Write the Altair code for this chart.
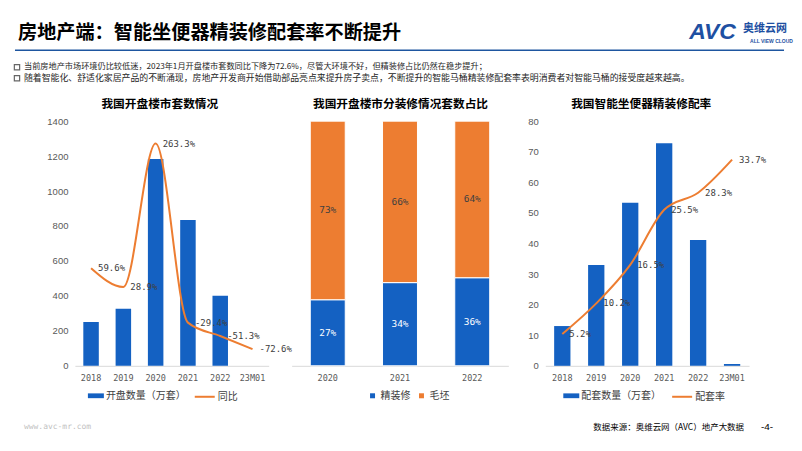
import altair as alt
import pandas as pd

BLUE = "#1461C2"
ORANGE = "#ED7D31"
GRAY = "#595959"
DARK = "#404040"
AXISLINE = "#D9D9D9"
CJK = "Noto Sans CJK SC"
MONO = "DejaVu Sans Mono"
SANS = "Liberation Sans"

# ---------------- data ----------------
years6 = ["2018", "2019", "2020", "2021", "2022", "23M01"]
open_units = [251, 326, 1183, 834, 401, None]          # 开盘数量（万套）
open_yoy = [59.6, 28.9, 263.3, -29.4, -51.3, -72.6]    # 同比 %

years3 = ["2020", "2021", "2022"]
finished_share = [27, 34, 36]   # 精装修 %
rough_share = [73, 66, 64]      # 毛坯 %

toilet_units = [13, 33, 53.3, 72.8, 41.1, 0.6]         # 配套数量（万套）
toilet_rate = [5.2, 10.2, 16.5, 25.5, 28.3, 33.7]      # 配套率 %

main_title = "房地产端：智能坐便器精装修配套率不断提升"
bullet1 = "当前房地产市场环境仍比较低迷，2023年1月开盘楼市套数同比下降为72.6%，尽管大环境不好，但精装修占比仍然在稳步提升；"
bullet2 = "随着智能化、舒适化家居产品的不断涌现，房地产开发商开始借助部品亮点来提升房子卖点，不断提升的智能马桶精装修配套率表明消费者对智能马桶的接受度越来越高。"
panel_titles = ["我国开盘楼市套数情况", "我国开盘楼市分装修情况套数占比", "我国智能坐便器精装修配率"]
source_text = "数据来源：奥维云网（AVC）地产大数据"
site_text = "www.avc-mr.com"
page_text = "-4-"


# ---------------- helpers ----------------
def txt(s, x, y, size, color="#000000", font=CJK, weight="normal", align="left",
        style="normal", angle=0, opacity=1.0):
    return alt.Chart(pd.DataFrame({"t": [s]})).mark_text(
        align=align, baseline="middle", font=font, fontSize=size, fontWeight=weight,
        color=color, fontStyle=style, angle=angle, opacity=opacity
    ).encode(text="t:N", x=alt.value(x), y=alt.value(y))


def xaxis_enc(domain, pin):
    return alt.X(
        "year:N", sort=domain,
        scale=alt.Scale(domain=domain, paddingInner=pin, paddingOuter=pin / 2),
        axis=alt.Axis(title=None, labelAngle=0, labelFont=MONO, labelFontSize=8.5,
                      labelColor=GRAY, ticks=False, domainColor=AXISLINE,
                      labelPadding=8, grid=False),
    )


PATH_RECT = "M-1,-0.3H1V0.3H-1Z"


def combo_panel(units, rates, labels, ymax, ystep, rdomain, bar_name, line_name,
                width, lx_bar, lx_line):
    df = pd.DataFrame({"year": years6, "units": units, "rate": rates, "label": labels})
    df["s1"] = bar_name
    df["s2"] = line_name
    x = xaxis_enc(years6, 0.52)
    bars = alt.Chart(df).mark_bar().encode(
        x=x,
        y=alt.Y("units:Q", scale=alt.Scale(domain=[0, ymax]),
                axis=alt.Axis(title=None, values=list(range(0, ymax + 1, ystep)),
                              format="d", labelFont=SANS, labelFontSize=9.5,
                              labelColor=GRAY, ticks=False, domain=False, grid=False,
                              labelPadding=7)),
        color=alt.Color("s1:N", scale=alt.Scale(domain=[bar_name], range=[BLUE]),
                        legend=alt.Legend(title=None, orient="none", legendX=lx_bar,
                                          legendY=267, symbolType=PATH_RECT,
                                          symbolSize=256, symbolStrokeWidth=0,
                                          labelFont=CJK, labelFontSize=10,
                                          labelColor=DARK, padding=0, labelOffset=2)),
    )
    line = alt.Chart(df).mark_line(interpolate="monotone", strokeWidth=2).encode(
        x=x,
        y=alt.Y("rate:Q", scale=alt.Scale(domain=rdomain), axis=None),
        stroke=alt.Stroke("s2:N", scale=alt.Scale(domain=[line_name], range=[ORANGE]),
                          legend=alt.Legend(title=None, orient="none", legendX=lx_line,
                                            legendY=265, symbolType="stroke",
                                            symbolSize=400, symbolStrokeWidth=2,
                                            labelFont=CJK, labelFontSize=10,
                                            labelColor=DARK, padding=0, labelOffset=2)),
    )
    text = alt.Chart(df).mark_text(align="left", baseline="middle", dx=7, font=MONO,
                                   fontSize=9, color=DARK).encode(
        x=x, y=alt.Y("rate:Q", scale=alt.Scale(domain=rdomain), axis=None),
        text="label:N",
    )
    return alt.layer(bars, alt.layer(line, text)).resolve_scale(y="independent").properties(
        width=width, height=245)


# ---------------- panel 1 ----------------
p1 = combo_panel(open_units, open_yoy, [f"{v:.1f}%" for v in open_yoy], 1400, 200,
                 [-100, 300], "开盘数量（万套）", "同比", 194, 13, 119)

# ---------------- panel 2 ----------------
df2 = pd.DataFrame({
    "year": years3 * 2,
    "series": ["精装修"] * 3 + ["毛坯"] * 3,
    "share": finished_share + rough_share,
    "ord": [0] * 3 + [1] * 3,
})
df2["label"] = [f"{v}%" for v in df2["share"]]
df2["tc"] = ["white"] * 3 + [DARK] * 3
x2 = xaxis_enc(years3, 0.516)
base2 = alt.Chart(df2).transform_stack(
    stack="share", groupby=["year"], as_=["v0", "v1"], sort=[alt.SortField("ord")]
).transform_calculate(mid="(datum.v0 + datum.v1) / 2")
bars2 = base2.mark_bar(stroke="white", strokeWidth=1).encode(
    x=x2,
    y=alt.Y("v0:Q", scale=alt.Scale(domain=[0, 100]), axis=None),
    y2="v1:Q",
    color=alt.Color("series:N", scale=alt.Scale(domain=["精装修", "毛坯"], range=[BLUE, ORANGE]),
                    legend=alt.Legend(title=None, orient="none", legendX=76, legendY=270,
                                      direction="horizontal", symbolType="square",
                                      symbolSize=25, symbolStrokeWidth=0, labelFont=CJK,
                                      labelFontSize=10, labelColor=DARK, padding=0,
                                      labelOffset=3, columnPadding=6)),
)
text2 = base2.mark_text(font=MONO, fontSize=9.5, baseline="middle").encode(
    x=x2, y=alt.Y("mid:Q", scale=alt.Scale(domain=[0, 100]), axis=None),
    text="label:N", fill=alt.Fill("tc:N", scale=None),
)
p2 = alt.layer(bars2, text2).properties(width=217, height=245)

# ---------------- panel 3 ----------------
p3 = combo_panel(toilet_units, toilet_rate, [f"{v:.1f}%" for v in toilet_rate], 80, 10,
                 [0, 40], "配套数量（万套）", "配套率", 204, 18, 126)


def spacer(w):
    return alt.Chart(pd.DataFrame({"a": [0]})).mark_text().encode(
        text=alt.value("")).properties(width=w, height=245)


row = alt.hconcat(spacer(67), p1, spacer(23), p2, spacer(37), p3, spacing=0,
                  bounds="flush").resolve_scale(
    color="independent", stroke="independent", fill="independent"
).resolve_legend(color="independent", stroke="independent")

# ---------------- header / footer ----------------
header_layers = [
    txt(main_title, 10, 25, 19.2, "#000000", weight="bold"),
    alt.Chart(pd.DataFrame({"a": [0]})).mark_rule(color="#1E56A0", strokeWidth=1.5).encode(
        x=alt.value(7), x2=alt.value(777), y=alt.value(42)),
    txt("AVC", 682, 24, 23, "#1E50A2", font=SANS, weight="bold", style="italic"),
    txt("奥维云网", 736, 21, 11, "#1E50A2", weight="bold"),
    txt("ALL VIEW CLOUD", 743, 33, 5, "#1E50A2", font=SANS, weight="bold"),
    alt.Chart(pd.DataFrame({"a": [0]})).mark_point(shape="square", filled=False,
                                                   color="#262626", strokeWidth=1.2, size=28).encode(
        x=alt.value(9), y=alt.value(59)),
    alt.Chart(pd.DataFrame({"a": [0]})).mark_point(shape="square", filled=False,
                                                   color="#262626", strokeWidth=1.2, size=28).encode(
        x=alt.value(9), y=alt.value(70)),
    txt(bullet1, 16, 59, 8.2, "#262626"),
    txt(bullet2, 16, 70, 8.9, "#262626"),
    txt(panel_titles[0], 152, 96, 11.7, "#000000", weight="bold", align="center"),
    txt(panel_titles[1], 393, 96, 11.7, "#000000", weight="bold", align="center"),
    txt(panel_titles[2], 634, 96, 11.7, "#000000", weight="bold", align="center"),
    txt(site_text, 16, 419, 8, "#BFBFBF", font=MONO),
    txt(source_text, 737, 419, 8.5, "#000000", align="right"),
    txt(page_text, 760, 419, 10, "#000000", font=SANS, align="center"),
]
header = alt.layer(*header_layers).properties(width=786, height=113)

chart = alt.vconcat(header, row, spacing=0, bounds="flush").properties(
    padding=0, background="white"
).configure_view(strokeWidth=0)

chart.save("out.html", embed_options={"renderer": "svg", "actions": False})
